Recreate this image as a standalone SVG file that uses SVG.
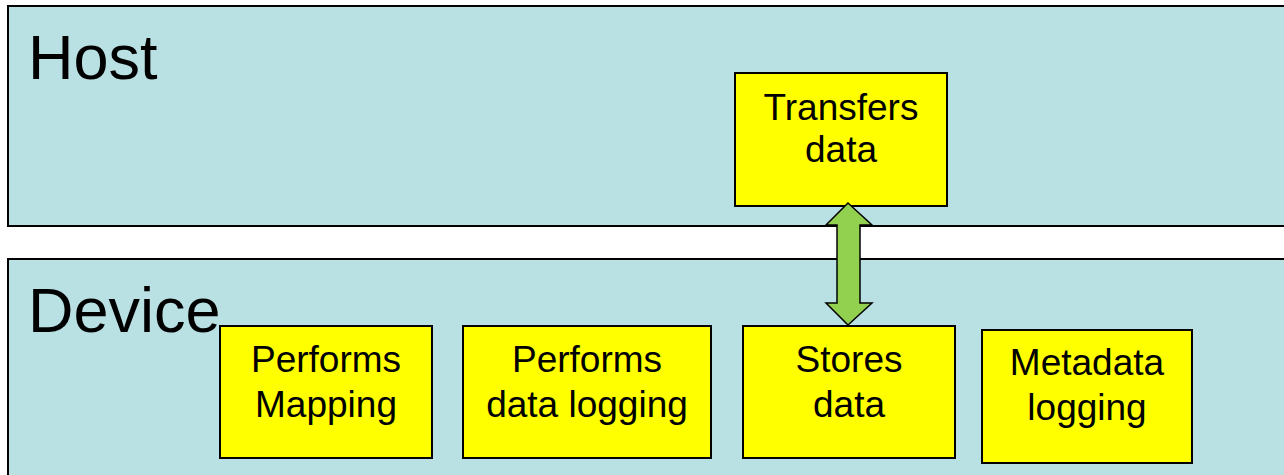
<svg xmlns="http://www.w3.org/2000/svg" width="1284" height="475" viewBox="0 0 1284 475">
<style>
.lane{fill:#b9e0e3;stroke:#000;stroke-width:2}
.box{fill:#ffff00;stroke:#000;stroke-width:2}
.lt{font-family:"Liberation Sans",Arial,sans-serif;font-size:63px;fill:#000}
.bt{font-family:"Liberation Sans",Arial,sans-serif;font-size:37px;fill:#000;text-anchor:middle}
.arr{fill:#92d050;stroke:#000;stroke-width:1.5;stroke-linejoin:miter}
</style>
<rect width="1284" height="475" fill="#fff"/>
<g id="host">
<rect class="lane" x="8" y="6" width="1290" height="220"/>
<text class="lt" x="28" y="79">Host</text>
</g>
<g id="device">
<rect class="lane" x="8" y="259" width="1290" height="230"/>
<text class="lt" x="28" y="332">Device</text>
</g>
<g id="transfers">
<rect class="box" x="735" y="73" width="212" height="133"/>
<text class="bt" x="841" y="120">Transfers</text>
<text class="bt" x="841" y="162">data</text>
</g>
<g id="mapping">
<rect class="box" x="220" y="326" width="212" height="132"/>
<text class="bt" x="326" y="372">Performs</text>
<text class="bt" x="326" y="417">Mapping</text>
</g>
<g id="datalogging">
<rect class="box" x="463" y="326" width="248" height="132"/>
<text class="bt" x="587" y="372">Performs</text>
<text class="bt" x="587" y="417">data logging</text>
</g>
<g id="stores">
<rect class="box" x="743" y="326" width="212" height="132"/>
<text class="bt" x="849" y="372">Stores</text>
<text class="bt" x="849" y="417">data</text>
</g>
<g id="metadata">
<rect class="box" x="982" y="330" width="210" height="133"/>
<text class="bt" x="1087" y="375">Metadata</text>
<text class="bt" x="1087" y="420">logging</text>
</g>
<g id="connectors">
<path class="arr" d="M848,203 L872,225 L860,225 L860,303 L872,303 L848,325 L826,303 L837,303 L837,225 L826,225 Z"/>
</g>
</svg>
